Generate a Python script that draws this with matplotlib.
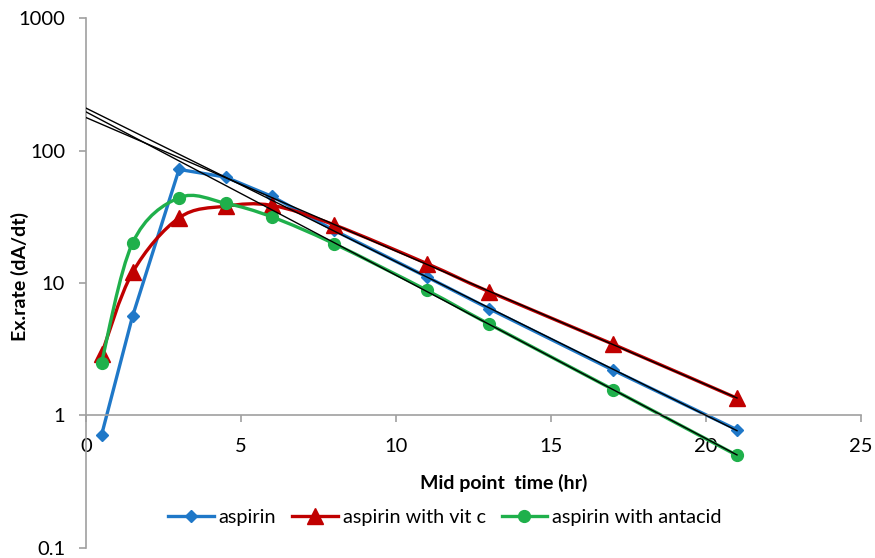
import numpy as np
import matplotlib
matplotlib.use("Agg")
import matplotlib.pyplot as plt
from matplotlib.path import Path
from matplotlib.patches import PathPatch
from matplotlib.lines import Line2D

plt.rcParams['font.family'] = ['Lato', 'DejaVu Sans']

# ---- data ----
time = [0.5, 1.5, 3, 4.5, 6, 8, 11, 13, 17, 21]
aspirin = [0.71, 5.6, 72, 63, 45, 25, 11.1, 6.4, 2.2, 0.78]
aspirin_vitc = [2.9, 12, 31, 38, 38.5, 27.5, 14, 8.6, 3.45, 1.35]
aspirin_antacid = [2.5, 20, 44, 40, 31.5, 19.8, 8.8, 4.9, 1.57, 0.5]
series_names = ["aspirin", "aspirin with vit c", "aspirin with antacid"]
x_ticks = [0, 5, 10, 15, 20, 25]
y_ticks = [0.1, 1, 10, 100, 1000]
y_ticklabels = ["0.1", "1", "10", "100", "1000"]
trend_from = 8        # elimination phase used for the exponential trendlines
trend_range = [0, 21]

c_blue = "#1f78c8"
c_red = "#c00000"
c_green = "#1fb04b"
grey = "#a0a0a0"

fig = plt.figure(figsize=(8.75, 5.58), dpi=100)
ax = fig.add_axes([0.0983, 0.018, 0.8857, 0.9497])
ax.set_yscale("log")
ax.set_xlim(0, 25)
ax.set_ylim(0.1, 1000)


def smooth_path(xs, ys, sx=31.0, sy=132.5):
    """Excel-like smoothed line: Catmull-Rom -> cubic Bezier in display-like space."""
    u = np.asarray(xs, float) * sx
    v = np.log10(np.asarray(ys, float)) * sy
    P = np.column_stack([u, v])
    n = len(P)
    verts = [P[0]]
    codes = [Path.MOVETO]
    for i in range(n - 1):
        p0 = P[i - 1] if i > 0 else P[i]
        p1 = P[i]
        p2 = P[i + 1]
        p3 = P[i + 2] if i + 2 < n else P[i + 1]
        c1 = p1 + (p2 - p0) / 6.0
        c2 = p2 - (p3 - p1) / 6.0
        verts += [c1, c2, p2]
        codes += [Path.CURVE4] * 3
    verts = np.array(verts)
    data = np.column_stack([verts[:, 0] / sx, 10 ** (verts[:, 1] / sy)])
    return Path(data, codes)


lw = 2.4
# aspirin: straight segments
ax.plot(time, aspirin, color=c_blue, lw=lw, marker="D", ms=6, zorder=2)
# smoothed series
ax.add_patch(PathPatch(smooth_path(time, aspirin_vitc), fill=False,
                       edgecolor=c_red, lw=lw, zorder=2))
ax.plot(time, aspirin_vitc, ls="none", marker="^", ms=11, color=c_red, zorder=2)
ax.add_patch(PathPatch(smooth_path(time, aspirin_antacid), fill=False,
                       edgecolor=c_green, lw=lw, zorder=2))
ax.plot(time, aspirin_antacid, ls="none", marker="o", ms=8.5, color=c_green, zorder=2)

# exponential trendlines (fit on elimination phase)
t = np.asarray(time)
mask = t >= trend_from
tx = np.array(trend_range, float)
for ys in (aspirin, aspirin_vitc, aspirin_antacid):
    k, b = np.polyfit(t[mask], np.log10(np.asarray(ys)[mask]), 1)
    ax.plot(tx, 10 ** (b + k * tx), color="black", lw=1.0, zorder=3)

# axes styling
for s in ("top", "right"):
    ax.spines[s].set_visible(False)
ax.spines["bottom"].set_position(("data", 1))
ax.spines["left"].set_color(grey)
ax.spines["bottom"].set_color(grey)
ax.spines["left"].set_linewidth(1.2)
ax.spines["bottom"].set_linewidth(1.2)

ax.set_xticks(x_ticks)
ax.set_xticklabels([str(v) for v in x_ticks])
ax.set_yticks(y_ticks)
ax.set_yticklabels(y_ticklabels)
ax.minorticks_off()
ax.tick_params(axis="both", which="major", direction="out", length=5,
               color=grey, width=1.2, labelsize=14.5, labelcolor="black")
ax.tick_params(axis="x", pad=11)
ax.tick_params(axis="y", pad=10)

ax.set_xlabel("Mid point  time (hr)", fontsize=14, fontweight="bold", va="center")
ax.xaxis.set_label_coords(0.539, 0.1226)
ax.set_ylabel("Ex.rate (dA/dt)", fontsize=14, fontweight="bold", va="center")
ax.yaxis.set_label_coords(-0.085, 0.513)

handles = [
    Line2D([], [], color=c_blue, lw=lw, marker="D", ms=6),
    Line2D([], [], color=c_red, lw=lw, marker="^", ms=11),
    Line2D([], [], color=c_green, lw=lw, marker="o", ms=8.5),
]
ax.legend(handles, series_names, loc="center", bbox_to_anchor=(0.463, 0.057),
          ncol=3, frameon=False, fontsize=14.3, handlelength=2.3,
          handletextpad=0.25, columnspacing=0.8)

fig.savefig("out.png", dpi=100)
